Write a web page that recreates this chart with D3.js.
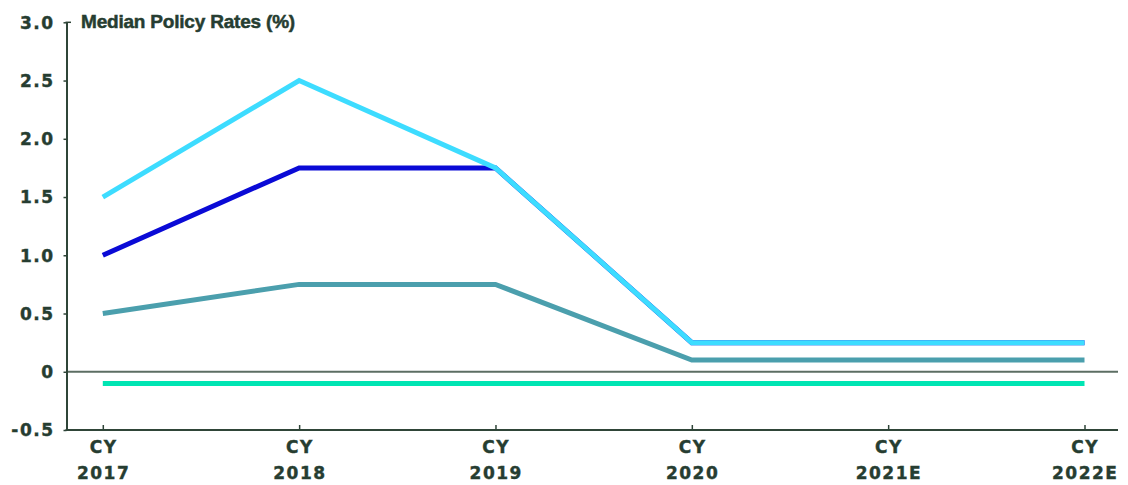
<!DOCTYPE html>
<html>
<head>
<meta charset="utf-8">
<script src="https://cdn.jsdelivr.net/npm/d3@7"></script>
<style>
  html, body { margin: 0; padding: 0; background: #ffffff; }
  svg { display: block; }
  .lbl { font-family: "DejaVu Sans", sans-serif; font-weight: 700; fill: #263d31; stroke: #263d31; stroke-width: 0.4px; }
  .ttl { font-family: "Liberation Sans", Arial, sans-serif; font-weight: 700; fill: #263d31; stroke: #263d31; stroke-width: 0.5px; }
</style>
</head>
<body>
<svg id="chart" width="1128" height="485"></svg>
<script>
// Calendar years on the x axis
const categories = ["2017", "2018", "2019", "2020", "2021E", "2022E"];
// Median policy rates (%) per group
const seriesCyan  = [1.5, 2.5, 1.75, 0.25, 0.25, 0.25];
const seriesBlue  = [1.0, 1.75, 1.75, 0.25, 0.25, 0.25];
const seriesTeal  = [0.5, 0.75, 0.75, 0.1, 0.1, 0.1];
const seriesGreen = [-0.1, -0.1, -0.1, -0.1, -0.1, -0.1];
// y-axis tick values and labels
const yTicks = [-0.5, 0, 0.5, 1.0, 1.5, 2.0, 2.5, 3.0];
const yTickLabels = ["-0.5", "0", "0.5", "1.0", "1.5", "2.0", "2.5", "3.0"];
const title = "Median Policy Rates (%)";

const svg = d3.select("#chart");
const axisColor = "#2f4538";

const plotLeft = 66.5, plotRight = 1118, plotTop = 22.3, plotBottom = 430;
const x = d3.scalePoint().domain(categories).range([102.8, 1084.5]);
const y = d3.scaleLinear().domain([-0.5, 3.0]).range([plotBottom, plotTop]);

// zero reference line
svg.append("line")
  .attr("x1", plotLeft).attr("x2", plotRight)
  .attr("y1", y(0)).attr("y2", y(0))
  .attr("stroke", "#5c6e63").attr("stroke-width", 2);

// y axis
const yAxis = d3.axisLeft(y).tickValues(yTicks).tickSize(3).tickSizeOuter(0)
  .tickFormat((d, i) => yTickLabels[i]);
const gy = svg.append("g").attr("transform", `translate(${plotLeft},0)`).call(yAxis);
gy.select(".domain").attr("stroke", axisColor).attr("stroke-width", 2);
gy.selectAll(".tick line").attr("stroke", axisColor).attr("stroke-width", 1.5);
gy.selectAll(".tick text").remove();
// small cap at the top of the y axis
svg.append("line")
  .attr("x1", plotLeft - 1).attr("x2", plotLeft + 4.5)
  .attr("y1", y(3.0)).attr("y2", y(3.0))
  .attr("stroke", axisColor).attr("stroke-width", 1.5);

// y tick labels
svg.append("g").selectAll("text").data(yTicks).join("text")
  .attr("class", "lbl")
  .attr("x", 54.5).attr("y", d => y(d))
  .attr("dy", "0.37em")
  .attr("text-anchor", "end")
  .style("font-size", "17px")
  .style("letter-spacing", "1.5px")
  .text((d, i) => yTickLabels[i]);

// x axis
const xAxis = d3.axisBottom(x).tickSize(-5).tickSizeOuter(0).tickFormat("");
const gx = svg.append("g").attr("transform", `translate(0,${plotBottom})`).call(xAxis);
gx.select(".domain").attr("d", `M${plotLeft - 1},0H${plotRight}`).attr("stroke", axisColor).attr("stroke-width", 2);
gx.selectAll(".tick line").attr("stroke", axisColor).attr("stroke-width", 1.5);

// x tick labels, two lines each
const xl = svg.append("g").selectAll("g").data(categories).join("g")
  .attr("transform", d => `translate(${x(d) + 0.75},0)`);
xl.append("text").attr("class", "lbl")
  .attr("y", 453).attr("text-anchor", "middle")
  .style("font-size", "17px").style("letter-spacing", "1.5px")
  .text("CY");
xl.append("text").attr("class", "lbl")
  .attr("y", 479).attr("text-anchor", "middle")
  .style("font-size", "17px").style("letter-spacing", "1.5px")
  .text(d => d);

// series lines, drawn bottom to top
const line = d3.line().x((d, i) => x(categories[i])).y(d => y(d));
const series = [
  { values: seriesGreen, color: "#00e5b3" },
  { values: seriesTeal,  color: "#4b9fad" },
  { values: seriesBlue,  color: "#0a0ad6" },
  { values: seriesCyan,  color: "#3ddcff" }
];
svg.append("g").selectAll("path").data(series).join("path")
  .attr("d", d => line(d.values))
  .attr("fill", "none")
  .attr("stroke", d => d.color)
  .attr("stroke-width", 5)
  .attr("stroke-linejoin", "miter");

// chart title
svg.append("text").attr("class", "ttl")
  .attr("x", 81).attr("y", 28)
  .style("font-size", "19px")
  .style("letter-spacing", "-0.2px")
  .text(title);
</script>
</body>
</html>
